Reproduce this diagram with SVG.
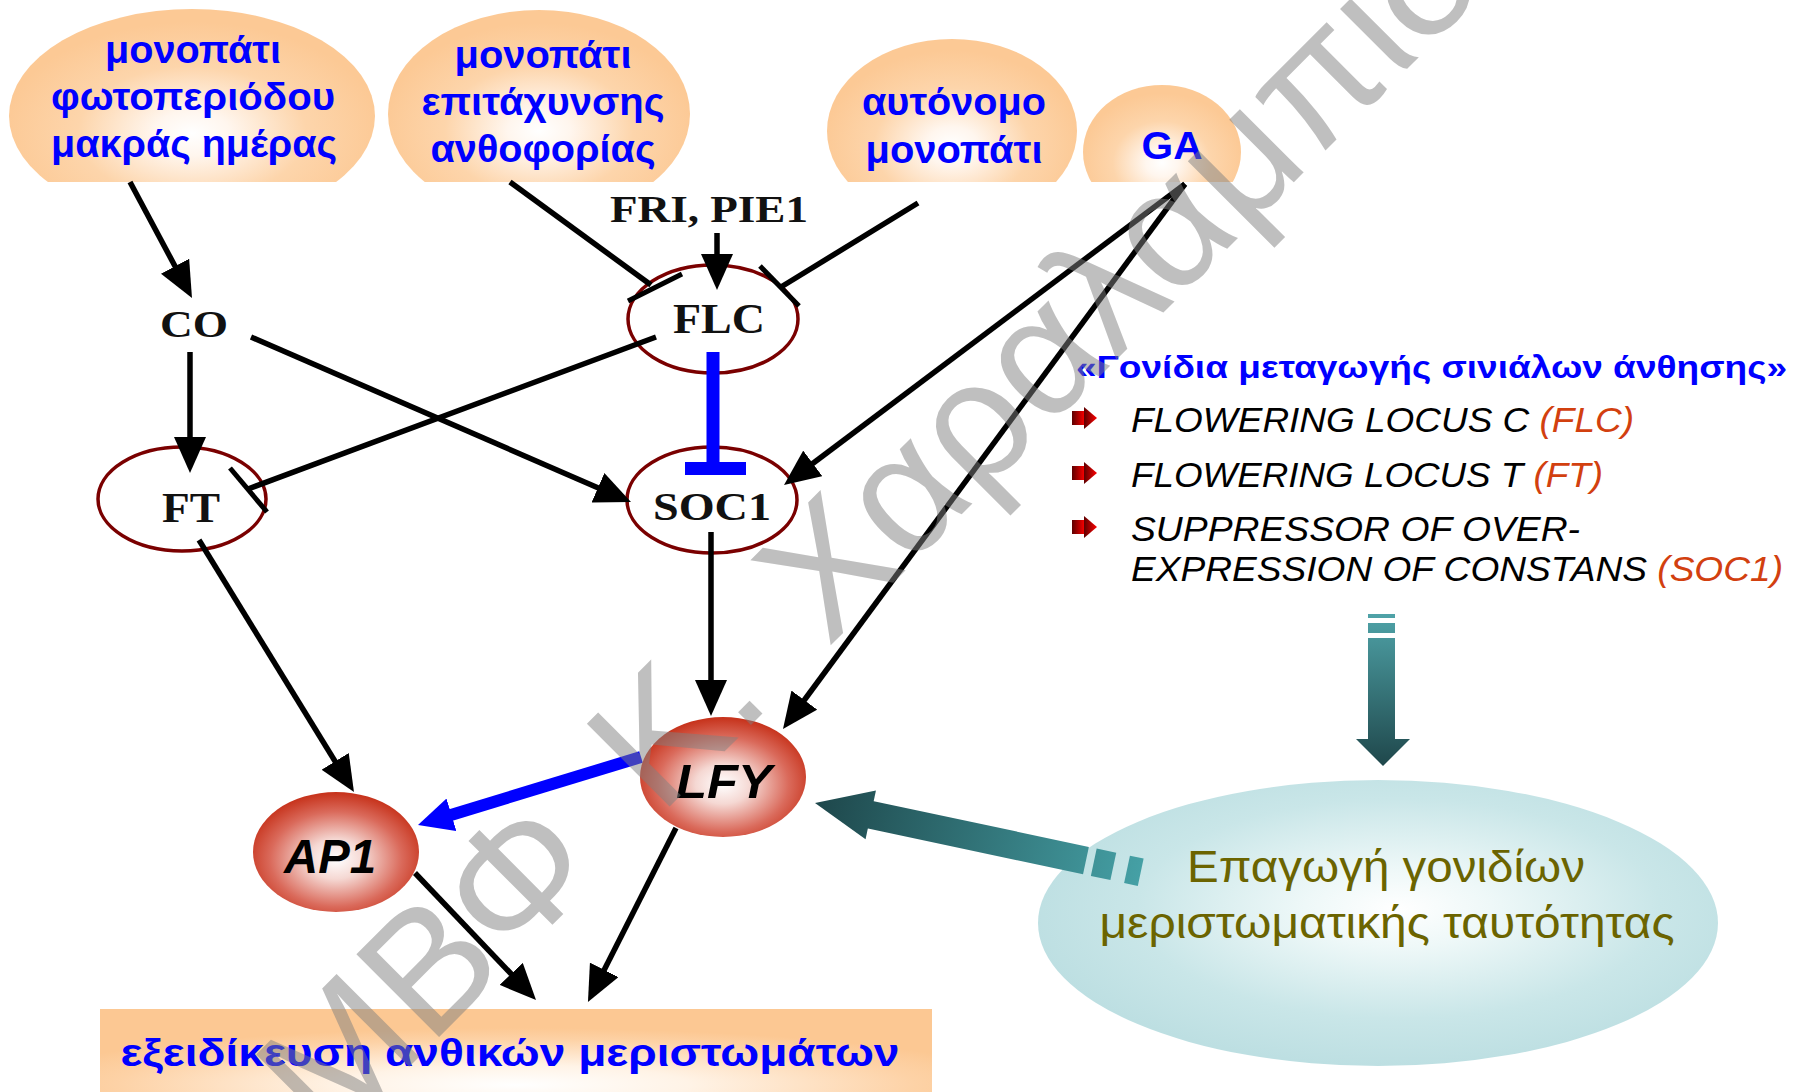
<svg xmlns="http://www.w3.org/2000/svg" width="1805" height="1092" viewBox="0 0 1805 1092">
  <defs>
    <style>
      .pw { font-family: "Liberation Sans", Arial, sans-serif; font-weight: bold; font-size: 38px; fill: #0000ff; text-anchor: middle; }
      .gene { font-family: "Liberation Serif", "Times New Roman", serif; font-weight: bold; fill: #111; text-anchor: middle; }
      .ball { font-family: "Liberation Sans", Arial, sans-serif; font-weight: bold; font-style: italic; font-size: 48px; fill: #000; text-anchor: middle; }
      .title { font-family: "Liberation Sans", Arial, sans-serif; font-weight: bold; font-size: 32px; fill: #0000ff; }
      .item { font-family: "Liberation Sans", Arial, sans-serif; font-style: italic; font-size: 35px; fill: #000; }
      .abbr { fill: #d2400f; }
      .ind { font-family: "Liberation Sans", Arial, sans-serif; font-size: 44px; fill: #6b6400; text-anchor: middle; }
      .edge { fill: none; stroke: #000; stroke-width: 5.5; }
      .arrow { marker-end: url(#ah); }
      .bar { fill: none; stroke: #000; stroke-width: 5; }
      .ring { fill: none; stroke: #7a0000; stroke-width: 3.5; }
      .wm { font-family: "Liberation Sans", Arial, sans-serif; font-size: 170px; word-spacing: 30px; fill: #808080; fill-opacity: 0.5; }
    </style>
    <clipPath id="topClip"><rect x="0" y="0" width="1805" height="182"/></clipPath>
    <radialGradient id="peach" cx="0.5" cy="0.58" r="0.52">
      <stop offset="0" stop-color="#ffffff"/>
      <stop offset="0.2" stop-color="#fff6ee"/>
      <stop offset="0.6" stop-color="#fdd5ab"/>
      <stop offset="1" stop-color="#fcc995"/>
    </radialGradient>
    <radialGradient id="peachBox" cx="0.5" cy="0.8" r="0.6">
      <stop offset="0" stop-color="#ffffff"/>
      <stop offset="0.35" stop-color="#fff3e6"/>
      <stop offset="0.8" stop-color="#fdd2a6"/>
      <stop offset="1" stop-color="#fcc893"/>
    </radialGradient>
    <radialGradient id="redBall" cx="0.5" cy="0.56" r="0.55">
      <stop offset="0" stop-color="#ffffff"/>
      <stop offset="0.3" stop-color="#f5d8d3"/>
      <stop offset="0.72" stop-color="#da6a5b"/>
      <stop offset="1" stop-color="#c7341d"/>
    </radialGradient>
    <radialGradient id="aqua" cx="0.53" cy="0.45" r="0.55">
      <stop offset="0" stop-color="#ffffff"/>
      <stop offset="0.25" stop-color="#eef8f8"/>
      <stop offset="0.7" stop-color="#c9e6e8"/>
      <stop offset="1" stop-color="#bddfe2"/>
    </radialGradient>
    <linearGradient id="tealV" gradientUnits="userSpaceOnUse" x1="0" y1="614" x2="0" y2="766">
      <stop offset="0" stop-color="#4fa3a8"/>
      <stop offset="1" stop-color="#1f474b"/>
    </linearGradient>
    <linearGradient id="tealH" gradientUnits="userSpaceOnUse" x1="0" y1="0" x2="333" y2="0">
      <stop offset="0" stop-color="#1e474b"/>
      <stop offset="1" stop-color="#45a0a5"/>
    </linearGradient>
    <linearGradient id="bulletFill" x1="0" y1="0" x2="1" y2="0">
      <stop offset="0" stop-color="#5e0000"/>
      <stop offset="1" stop-color="#ff0000"/>
    </linearGradient>
    <marker id="ah" viewBox="0 0 36 32" refX="8" refY="16" markerWidth="36" markerHeight="32" markerUnits="userSpaceOnUse" orient="auto">
      <path d="M0,0 L36,16 L0,32 z" fill="#000"/>
    </marker>
    <marker id="ahBlue" viewBox="0 0 35 34" refX="10" refY="17" markerWidth="35" markerHeight="34" markerUnits="userSpaceOnUse" orient="auto">
      <path d="M0,0 L35,17 L0,34 z" fill="#0000ff"/>
    </marker>
    <g id="bullet">
      <rect x="0" y="-7" width="13" height="14"/>
      <path d="M12,-11 L25,0 L12,11 z"/>
    </g>
  </defs>

  <rect width="1805" height="1092" fill="#ffffff"/>

  <!-- input pathways (bubbles cut flat at the bottom) -->
  <g id="pathway-photoperiod">
    <ellipse cx="192" cy="116" rx="183" ry="107" fill="url(#peach)" clip-path="url(#topClip)"/>
    <text class="pw" x="193" y="63" textLength="176" lengthAdjust="spacingAndGlyphs">μονοπάτι</text>
    <text class="pw" x="193" y="110" textLength="284" lengthAdjust="spacingAndGlyphs">φωτοπεριόδου</text>
    <text class="pw" x="194" y="157" textLength="286" lengthAdjust="spacingAndGlyphs">μακράς ημέρας</text>
  </g>
  <g id="pathway-acceleration">
    <ellipse cx="539" cy="114" rx="151" ry="104" fill="url(#peach)" clip-path="url(#topClip)"/>
    <text class="pw" x="543" y="68" textLength="177" lengthAdjust="spacingAndGlyphs">μονοπάτι</text>
    <text class="pw" x="543" y="115" textLength="243" lengthAdjust="spacingAndGlyphs">επιτάχυνσης</text>
    <text class="pw" x="543" y="162" textLength="225" lengthAdjust="spacingAndGlyphs">ανθοφορίας</text>
  </g>
  <g id="pathway-autonomous">
    <ellipse cx="952" cy="131" rx="125" ry="92" fill="url(#peach)" clip-path="url(#topClip)"/>
    <text class="pw" x="954" y="115" textLength="184" lengthAdjust="spacingAndGlyphs">αυτόνομο</text>
    <text class="pw" x="954" y="163" textLength="177" lengthAdjust="spacingAndGlyphs">μονοπάτι</text>
  </g>
  <g id="pathway-ga">
    <ellipse cx="1162" cy="152" rx="79" ry="67" fill="url(#peach)" clip-path="url(#topClip)"/>
    <text class="pw" x="1172" y="159" textLength="61" lengthAdjust="spacingAndGlyphs">GA</text>
  </g>

  <!-- gene nodes -->
  <g id="fri-pie1">
    <text class="gene" x="709" y="222" font-size="38" textLength="198" lengthAdjust="spacingAndGlyphs">FRI, PIE1</text>
  </g>
  <g id="co">
    <text class="gene" x="194" y="337" font-size="38" textLength="68" lengthAdjust="spacingAndGlyphs">CO</text>
  </g>
  <g id="flc">
    <ellipse class="ring" cx="713" cy="319" rx="85" ry="54"/>
    <text class="gene" x="719" y="333" font-size="42" textLength="92" lengthAdjust="spacingAndGlyphs">FLC</text>
  </g>
  <g id="ft">
    <ellipse class="ring" cx="182" cy="499" rx="84" ry="52"/>
    <text class="gene" x="191" y="522" font-size="42" textLength="58" lengthAdjust="spacingAndGlyphs">FT</text>
  </g>
  <g id="soc1">
    <ellipse class="ring" cx="712" cy="500" rx="85" ry="53"/>
    <text class="gene" x="712" y="520" font-size="40" textLength="118" lengthAdjust="spacingAndGlyphs">SOC1</text>
  </g>

  <!-- regulatory connectors -->
  <g id="connectors">
    <line class="edge arrow" x1="130" y1="182" x2="178.8" y2="273.3"/>
    <line class="edge arrow" x1="190" y1="352" x2="190" y2="445"/>
    <line class="edge arrow" x1="251" y1="337" x2="605.3" y2="490.9"/>
    <line class="edge arrow" x1="717" y1="233" x2="717" y2="262"/>
    <line class="edge arrow" x1="1185" y1="184" x2="806.4" y2="468.2"/>
    <line class="edge arrow" x1="1185" y1="184" x2="799.6" y2="706.5"/>
    <line class="edge arrow" x1="711" y1="532" x2="711" y2="688"/>
    <line class="edge arrow" x1="199" y1="540" x2="339.3" y2="768.2"/>
    <line class="edge arrow" x1="415" y1="873" x2="516.7" y2="979.7"/>
    <line class="edge arrow" x1="676" y1="828" x2="600.6" y2="977"/>
    <!-- repression (blunt-ended) -->
    <line class="edge" x1="510" y1="182" x2="651" y2="285"/>
    <line class="bar" x1="628" y1="301" x2="682" y2="274"/>
    <line class="edge" x1="918" y1="203" x2="781" y2="287"/>
    <line class="bar" x1="760" y1="266" x2="799" y2="306"/>
    <line class="edge" x1="656" y1="337" x2="248" y2="489"/>
    <line class="bar" x1="230" y1="468" x2="267" y2="512"/>
    <line x1="713" y1="352" x2="713" y2="466" stroke="#0000ff" stroke-width="13"/>
    <rect x="685" y="462" width="61" height="13" fill="#0000ff"/>
    <!-- LFY activates AP1 -->
    <line x1="641" y1="757" x2="441.9" y2="817.7" stroke="#0000ff" stroke-width="12" marker-end="url(#ahBlue)"/>
  </g>

  <!-- floral meristem identity genes -->
  <g id="lfy">
    <ellipse cx="723" cy="777" rx="83" ry="60" fill="url(#redBall)"/>
    <text class="ball" x="724" y="798" textLength="96" lengthAdjust="spacingAndGlyphs">LFY</text>
  </g>
  <g id="ap1">
    <ellipse cx="336" cy="852" rx="83" ry="60" fill="url(#redBall)"/>
    <text class="ball" x="330" y="873" textLength="92" lengthAdjust="spacingAndGlyphs">AP1</text>
  </g>

  <g id="meristem-spec">
    <rect x="100" y="1009" width="832" height="95" fill="url(#peachBox)"/>
    <text class="pw" x="510" y="1066" textLength="779" lengthAdjust="spacingAndGlyphs">εξειδίκευση ανθικών μεριστωμάτων</text>
  </g>

  <!-- legend: flowering signal integrators -->
  <g id="integrators">
    <text class="title" x="1076" y="378" textLength="711" lengthAdjust="spacingAndGlyphs">«Γονίδια μεταγωγής σινιάλων άνθησης»</text>
    <use href="#bullet" x="1072" y="418" fill="url(#bulletFill)"/>
    <use href="#bullet" x="1072" y="473" fill="url(#bulletFill)"/>
    <use href="#bullet" x="1072" y="527" fill="url(#bulletFill)"/>
    <text class="item" x="1131" y="432" textLength="503" lengthAdjust="spacingAndGlyphs">FLOWERING LOCUS C <tspan class="abbr">(FLC)</tspan></text>
    <text class="item" x="1131" y="487" textLength="472" lengthAdjust="spacingAndGlyphs">FLOWERING LOCUS T <tspan class="abbr">(FT)</tspan></text>
    <text class="item" x="1131" y="541" textLength="449" lengthAdjust="spacingAndGlyphs">SUPPRESSOR OF OVER-</text>
    <text class="item" x="1131" y="581" textLength="652" lengthAdjust="spacingAndGlyphs">EXPRESSION OF CONSTANS <tspan class="abbr">(SOC1)</tspan></text>
  </g>

  <!-- block arrows -->
  <g id="arrow-down" fill="url(#tealV)">
    <rect x="1368" y="614" width="27" height="4"/>
    <rect x="1368" y="623" width="27" height="10"/>
    <rect x="1368" y="638" width="27" height="101"/>
    <path d="M1356,739 L1410,739 L1383,766 z"/>
  </g>

  <g id="meristem-identity">
    <ellipse cx="1378" cy="923" rx="340" ry="143" fill="url(#aqua)"/>
    <text class="ind" x="1386" y="882" textLength="398" lengthAdjust="spacingAndGlyphs">Επαγωγή γονιδίων</text>
    <text class="ind" x="1387" y="938" textLength="575" lengthAdjust="spacingAndGlyphs">μεριστωματικής ταυτότητας</text>
  </g>

  <g id="arrow-to-lfy" transform="translate(815,803) rotate(12)" fill="url(#tealH)">
    <path d="M0,0 L57,-25 L57,25 z"/>
    <rect x="56" y="-14" width="221" height="28"/>
    <rect x="285" y="-14" width="20" height="28"/>
    <rect x="319" y="-14" width="14" height="28"/>
  </g>

  <!-- watermark -->
  <text class="wm" transform="translate(329,1147) rotate(-45)">ΜΒΦ Κ. Χαραλαμπίδης</text>
</svg>
